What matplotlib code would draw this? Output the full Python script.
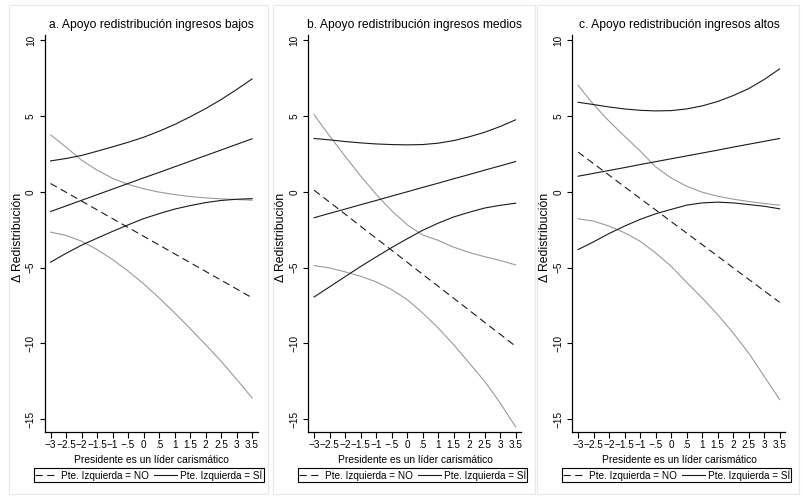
import matplotlib.pyplot as plt
from matplotlib.patches import Rectangle

plt.rcParams['font.family'] = ['Liberation Sans', 'DejaVu Sans']

# valores del eje x (líder carismático)
x_vals = [-3, -2.5, -2, -1.5, -1, -0.5, 0, 0.5, 1, 1.5, 2, 2.5, 3, 3.5]
x_ticklabels = ['\u22123', '\u22122.5', '\u22122', '\u22121.5', '\u22121', '\u2212.5', '0',
                '.5', '1', '1.5', '2', '2.5', '3', '3.5']
y_ticks = [10, 5, 0, -5, -10, -15]
y_ticklabels = ['10', '5', '0', '\u22125', '\u221210', '\u221215']

titles = ['a. Apoyo redistribución ingresos bajos',
          'b. Apoyo redistribución ingresos medios',
          'c. Apoyo redistribución ingresos altos']

# a. ingresos bajos
no_est_a = [0.55, -0.03, -0.61, -1.19, -1.77, -2.35, -2.93, -3.51, -4.09, -4.67, -5.25, -5.83, -6.41, -6.99]
no_hi_a = [3.76, 2.95, 2.09, 1.43, 0.89, 0.49, 0.2, -0.02, -0.18, -0.31, -0.40, -0.46, -0.51, -0.55]
no_lo_a = [-2.66, -2.88, -3.26, -3.81, -4.47, -5.23, -6.07, -7.0, -7.99, -9.02, -10.08, -11.18, -12.37, -13.6]
si_est_a = [-1.3, -0.93, -0.56, -0.19, 0.18, 0.55, 0.92, 1.28, 1.65, 2.02, 2.39, 2.76, 3.13, 3.5]
si_hi_a = [2.04, 2.2, 2.4, 2.68, 2.97, 3.27, 3.6, 4.0, 4.44, 4.95, 5.49, 6.09, 6.75, 7.45]
si_lo_a = [-4.64, -4.06, -3.52, -3.06, -2.61, -2.18, -1.77, -1.44, -1.14, -0.91, -0.71, -0.57, -0.49, -0.45]

# b. ingresos medios
no_est_b = [0.11, -0.68, -1.47, -2.27, -3.06, -3.85, -4.64, -5.44, -6.23, -7.02, -7.81, -8.61, -9.40, -10.19]
no_hi_b = [5.09, 3.69, 2.35, 1.05, -0.16, -1.24, -2.17, -2.85, -3.2, -3.65, -4.0, -4.28, -4.53, -4.82]
no_lo_b = [-4.87, -5.02, -5.28, -5.57, -5.94, -6.45, -7.11, -7.99, -8.98, -10.08, -11.29, -12.5, -13.93, -15.51]
si_est_b = [-1.71, -1.42, -1.14, -0.85, -0.57, -0.28, 0.0, 0.29, 0.57, 0.86, 1.14, 1.43, 1.71, 2.0]
si_hi_b = [3.52, 3.43, 3.32, 3.23, 3.16, 3.12, 3.10, 3.12, 3.21, 3.38, 3.63, 3.93, 4.31, 4.75]
si_lo_b = [-6.94, -6.27, -5.60, -4.93, -4.30, -3.68, -3.10, -2.54, -2.07, -1.66, -1.35, -1.07, -0.89, -0.75]

# c. ingresos altos
no_est_c = [2.62, 1.86, 1.10, 0.33, -0.43, -1.19, -1.96, -2.72, -3.48, -4.24, -5.01, -5.77, -6.53, -7.29]
no_hi_c = [7.03, 5.76, 4.66, 3.67, 2.70, 1.65, 0.92, 0.37, -0.02, -0.29, -0.48, -0.64, -0.77, -0.88]
no_lo_c = [-1.78, -1.93, -2.26, -2.70, -3.26, -4.03, -4.91, -5.97, -7.0, -8.1, -9.31, -10.63, -12.17, -13.71]
si_est_c = [1.03, 1.22, 1.41, 1.60, 1.80, 1.99, 2.18, 2.37, 2.56, 2.75, 2.95, 3.14, 3.33, 3.52]
si_hi_c = [5.91, 5.76, 5.60, 5.47, 5.38, 5.34, 5.36, 5.47, 5.67, 5.96, 6.35, 6.81, 7.41, 8.11]
si_lo_c = [-3.81, -3.30, -2.75, -2.26, -1.82, -1.45, -1.16, -0.88, -0.73, -0.68, -0.73, -0.84, -0.95, -1.12]

panels = [
    (no_est_a, no_hi_a, no_lo_a, si_est_a, si_hi_a, si_lo_a),
    (no_est_b, no_hi_b, no_lo_b, si_est_b, si_hi_b, si_lo_b),
    (no_est_c, no_hi_c, no_lo_c, si_est_c, si_hi_c, si_lo_c),
]

W, H = 804, 498
fig = plt.figure(figsize=(W / 100, H / 100), dpi=100)

box_left = [9, 273, 537]
box_right = [268, 535, 799]
ax_left = [45, 308.5, 572.5]

black = '#1a1a1a'
gray = '#9a9a9a'
lw = 0.8

for i in range(3):
    fig.add_artist(Rectangle((box_left[i] / W, 4 / H), (box_right[i] - box_left[i]) / W, 489 / H,
                             transform=fig.transFigure, facecolor='none', edgecolor='#e4eaec', linewidth=0.8))

    ax = fig.add_axes([ax_left[i] / W, 66 / H, 213 / W, 397 / H])
    no_est, no_hi, no_lo, si_est, si_hi, si_lo = panels[i]

    ax.plot(x_vals, no_hi, color=gray, lw=lw)
    ax.plot(x_vals, no_lo, color=gray, lw=lw)
    ax.plot(x_vals, si_hi, color=black, lw=lw)
    ax.plot(x_vals, si_lo, color=black, lw=lw)
    l_no, = ax.plot(x_vals, no_est, color=black, lw=lw, dashes=(6.5, 4), label='Pte. Izquierda = NO')
    l_si, = ax.plot(x_vals, si_est, color=black, lw=lw, label='Pte. Izquierda = SÍ')

    ax.set_xlim(-3.18, 3.69)
    ax.set_ylim(-15.85, 10.35)
    ax.spines['top'].set_visible(False)
    ax.spines['right'].set_visible(False)
    ax.spines['left'].set_linewidth(0.9)
    ax.spines['bottom'].set_linewidth(0.9)

    ax.set_xticks(x_vals)
    ax.set_xticklabels(x_ticklabels, fontsize=7.2)
    ax.set_yticks(y_ticks)
    ax.set_yticklabels(y_ticklabels, fontsize=7.2, rotation=90, va='center')
    ax.tick_params(axis='y', length=3.6, width=0.8, pad=3, colors='black')
    ax.tick_params(axis='x', length=4, width=0.8, pad=2, colors='black')

    ax.set_title(titles[i], fontsize=8.7, pad=5)
    ax.set_xlabel('Presidente es un líder carismático', fontsize=7.4, labelpad=3)
    ax.set_ylabel('\u0394 Redistribución', fontsize=8.8)
    ax.yaxis.set_label_coords(-0.099, 0.49)

    leg = ax.legend(handles=[l_no, l_si], loc='upper center', bbox_to_anchor=(0.488, -0.091), ncol=2,
                    fontsize=7.2, frameon=True, fancybox=False, edgecolor='black', framealpha=1,
                    borderpad=0.12, handlelength=2.3, handletextpad=0.3, columnspacing=0.5,
                    borderaxespad=0)
    leg.get_frame().set_linewidth(0.8)

fig.savefig('out.png', dpi=100)
